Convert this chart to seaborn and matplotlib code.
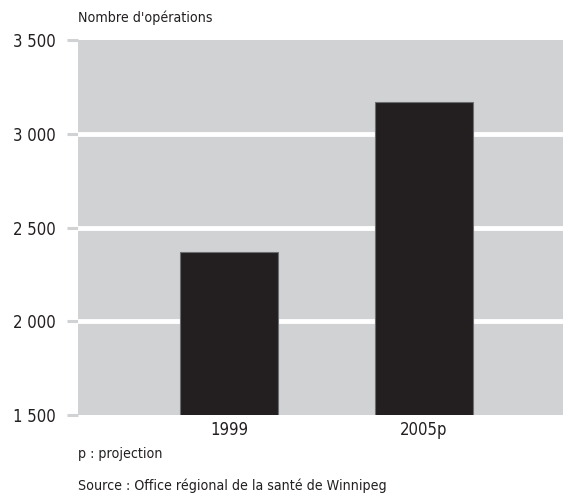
import pandas as pd
import seaborn as sns
import matplotlib.pyplot as plt

# data
years = ['1999', '2005p']
operations = [2372, 3170]
y_ticks = [1500, 2000, 2500, 3000, 3500]
y_labels = ['1 500', '2 000', '2 500', '3 000', '3 500']

df = pd.DataFrame({'year': years, 'ops': operations})

sns.set_style('white')
plt.rcParams['font.family'] = ['DejaVu Sans']
plt.rcParams['font.stretch'] = 'condensed'

fig = plt.figure(figsize=(5.73, 4.97), dpi=100)
ax = fig.add_axes([0.136, 0.165, 0.8465, 0.7545])
ax.set_facecolor('#D1D2D4')

sns.barplot(data=df, x='year', y='ops', color='#231F20', width=0.505,
            edgecolor='#6d6e71', linewidth=0.8, saturation=1, ax=ax, zorder=3)

ax.set_ylim(1500, 3500)
ax.set_xlim(-0.78, 1.717)
ax.set_yticks(y_ticks)
ax.set_yticklabels(y_labels, fontsize=12, color='#231F20')
ax.tick_params(axis='y', left=True, length=8, width=2.2, color='#D1D2D4', pad=8, direction='out')
ax.tick_params(axis='x', bottom=False, length=0, labelsize=12, labelcolor='#231F20', pad=4)
for y in y_ticks[1:-1]:
    ax.axhline(y, color='white', lw=3.5, zorder=1)
for s in ax.spines.values():
    s.set_visible(False)
ax.set_xlabel('')
ax.set_ylabel('')

fig.text(0.136, 0.964, "Nombre d'opérations", fontsize=10.2, color='#231F20', va='center')
fig.text(0.136, 0.087, 'p : projection', fontsize=10.2, color='#231F20', va='center')
fig.text(0.136, 0.022, 'Source : Office régional de la santé de Winnipeg', fontsize=10.2,
         color='#231F20', va='center')

plt.savefig('out.png', dpi=100)
